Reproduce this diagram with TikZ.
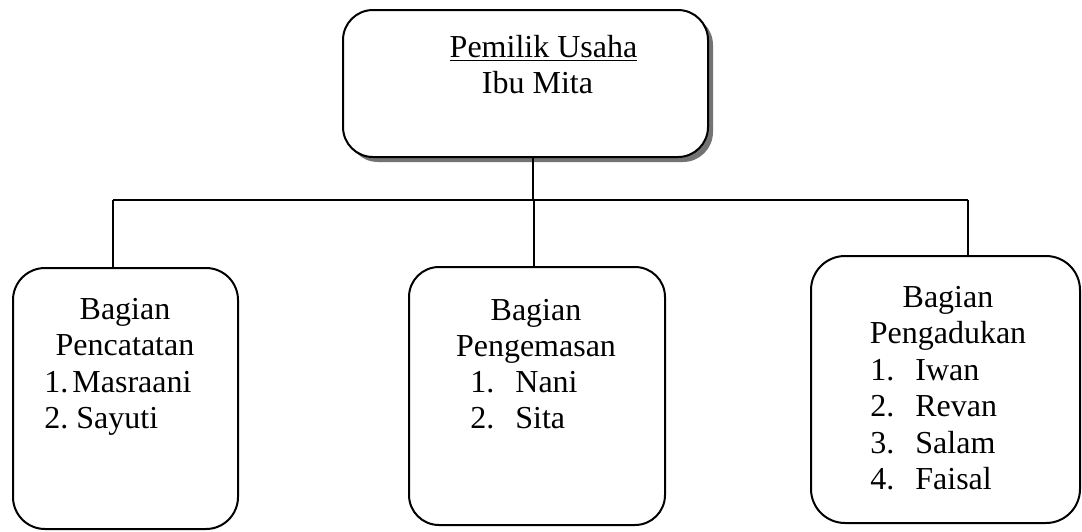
\documentclass[tikz,border=0pt]{standalone}
\usepackage{fontspec}
\setmainfont{Liberation Serif}
\usetikzlibrary{shadows}
\begin{document}
\begin{tikzpicture}[x=0.5pt,y=-0.5pt,
  box/.style={draw=black, line width=1pt, rectangle, rounded corners=15pt, fill=white, inner sep=0pt},
  txt/.style={inner sep=0pt, font=\fontsize{16pt}{18pt}\selectfont},
  conn/.style={draw=black, line width=1pt}]
\useasboundingbox (0,0) rectangle (1082,531);
% boxes
\node[box, minimum width=182.5pt, minimum height=73.5pt,
  drop shadow={shadow xshift=2.5pt, shadow yshift=-2.5pt, fill=black!55, opacity=1}] (top) at (525.5,83.5) {};
\node[box, minimum width=112.5pt, minimum height=130.5pt, rounded corners=16pt] (left) at (125.5,398.5) {};
\node[box, minimum width=128pt, minimum height=129pt] (mid) at (537,396) {};
\node[box, minimum width=134.5pt, minimum height=133.5pt, rounded corners=17pt] (right) at (945.5,389.5) {};
% connectors
\coordinate (jt) at (533,200);
\coordinate (jl) at (113,200);
\coordinate (jm) at (534,200);
\coordinate (jr) at (968,200);
\draw[conn] (top.south -| jt) -- (jt);
\draw[conn] (jl) -- (jr);
\draw[conn] (jl) -- (jl |- left.north);
\draw[conn] (jm) -- (jm |- mid.north);
\draw[conn] (jr) -- (jr |- right.north);
% top text
\node[txt, anchor=base] (t1) at (543.5,57) {\underline{Pemilik Usaha}};
\node[txt, anchor=base] (t2) at (537.5,93) {Ibu Mita};
% left text
\node[txt, anchor=base] (l1) at (125,319) {Bagian};
\node[txt, anchor=base] (l2) at (125,355) {Pencatatan};
\node[txt, anchor=base west] (l3) at (44,392) {\makebox[14pt][l]{1.}Masraani};
\node[txt, anchor=base west] (l4) at (44,428) {\makebox[16pt][l]{2.}Sayuti};
% middle text
\node[txt, anchor=base] (m1) at (536,320) {Bagian};
\node[txt, anchor=base] (m2) at (536,356) {Pengemasan};
\node[txt, anchor=base west] (m3) at (470,392) {\makebox[22.5pt][l]{1.}Nani};
\node[txt, anchor=base west] (m4) at (470,428) {\makebox[22.5pt][l]{2.}Sita};
% right text
\node[txt, anchor=base] (r1) at (948,307) {Bagian};
\node[txt, anchor=base] (r2) at (948,343) {Pengadukan};
\node[txt, anchor=base west] (r3) at (870,380) {\makebox[22.5pt][l]{1.}Iwan};
\node[txt, anchor=base west] (r4) at (870,416) {\makebox[22.5pt][l]{2.}Revan};
\node[txt, anchor=base west] (r5) at (870,453) {\makebox[22.5pt][l]{3.}Salam};
\node[txt, anchor=base west] (r6) at (870,489) {\makebox[22.5pt][l]{4.}Faisal};
\end{tikzpicture}
\end{document}
